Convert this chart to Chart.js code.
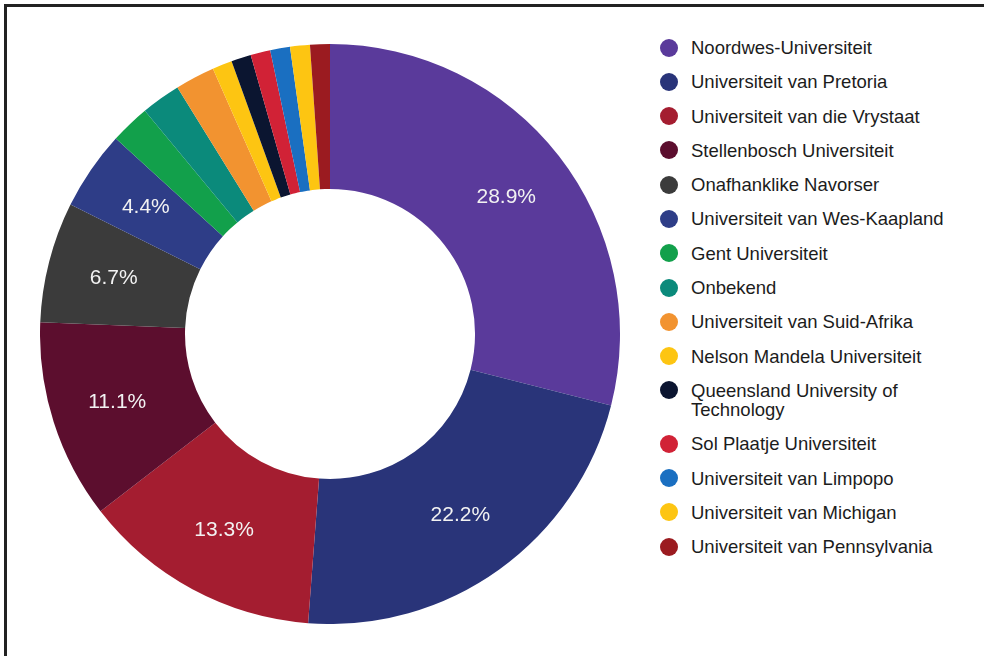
<!DOCTYPE html>
<html>
<head>
<meta charset="utf-8">
<script src="https://cdn.jsdelivr.net/npm/chart.js@4.4.1/dist/chart.umd.min.js"></script>
<style>
  html, body { margin: 0; padding: 0; background: #fff; width: 984px; height: 656px; overflow: hidden; }
  #frame { position: absolute; left: 4px; top: 4px; width: 990px; height: 670px; border-top: 3px solid #222; border-left: 3px solid #222; box-sizing: border-box; }
  #wrap { position: absolute; left: 40px; top: 44px; width: 580px; height: 580px; }
  #legend { position: absolute; left: 660px; top: 38px; font-family: "Liberation Sans", Arial, Helvetica, sans-serif; font-size: 18.5px; color: #1c1c1c; }
  .item { display: flex; align-items: flex-start; margin-bottom: 15.3px; line-height: 19px; }
  .dot { width: 18px; height: 18px; border-radius: 50%; margin-top: 0.5px; margin-right: 13px; flex: none; }
  .txt { width: 270px; }
</style>
</head>
<body>
<div id="frame"></div>
<div id="wrap"><canvas id="c"></canvas></div>
<div id="legend"></div>
<script>
const categories = [
  "Noordwes-Universiteit",
  "Universiteit van Pretoria",
  "Universiteit van die Vrystaat",
  "Stellenbosch Universiteit",
  "Onafhanklike Navorser",
  "Universiteit van Wes-Kaapland",
  "Gent Universiteit",
  "Onbekend",
  "Universiteit van Suid-Afrika",
  "Nelson Mandela Universiteit",
  "Queensland University of Technology",
  "Sol Plaatje Universiteit",
  "Universiteit van Limpopo",
  "Universiteit van Michigan",
  "Universiteit van Pennsylvania"
];
const percentages = [28.9, 22.2, 13.3, 11.1, 6.7, 4.4, 2.2, 2.2, 2.2, 1.1, 1.1, 1.1, 1.1, 1.1, 1.1];
const colors = [
  "#5a3a9b", "#293479", "#a41d30", "#5c0e2e", "#3b3b3b",
  "#2e3d87", "#12a04b", "#0b8a7b", "#f29330", "#fdc512",
  "#0b1530", "#d12236", "#1a6fc1", "#fdc512", "#9b1b20"
];
const labelThreshold = 4;

const sliceLabels = {
  id: 'sliceLabels',
  afterDatasetsDraw(chart) {
    const ctx = chart.ctx;
    const meta = chart.getDatasetMeta(0);
    ctx.save();
    ctx.font = '21px "Liberation Sans", Arial, Helvetica, sans-serif';
    ctx.fillStyle = '#f2f2f2';
    ctx.textAlign = 'center';
    ctx.textBaseline = 'middle';
    meta.data.forEach((arc, i) => {
      const v = chart.data.datasets[0].data[i];
      if (v >= labelThreshold) {
        const p = arc.getProps(['x', 'y', 'startAngle', 'endAngle', 'innerRadius', 'outerRadius']);
        const a = (p.startAngle + p.endAngle) / 2;
        const r = p.innerRadius + (p.outerRadius - p.innerRadius) * 0.54;
        ctx.fillText(v.toFixed(1) + '%', p.x + Math.cos(a) * r, p.y + Math.sin(a) * r);
      }
    });
    ctx.restore();
  }
};

new Chart(document.getElementById('c'), {
  type: 'doughnut',
  data: {
    labels: categories,
    datasets: [{
      data: percentages,
      backgroundColor: colors,
      borderWidth: 0
    }]
  },
  options: {
    responsive: true,
    maintainAspectRatio: false,
    animation: false,
    cutout: '50%',
    layout: { padding: 0 },
    plugins: {
      legend: { display: false },
      tooltip: { enabled: false }
    }
  },
  plugins: [sliceLabels]
});

const legend = document.getElementById('legend');
categories.forEach((name, i) => {
  const item = document.createElement('div');
  item.className = 'item';
  const dot = document.createElement('span');
  dot.className = 'dot';
  dot.style.background = colors[i];
  const txt = document.createElement('span');
  txt.className = 'txt';
  txt.textContent = name;
  item.appendChild(dot);
  item.appendChild(txt);
  legend.appendChild(item);
});
</script>
</body>
</html>
